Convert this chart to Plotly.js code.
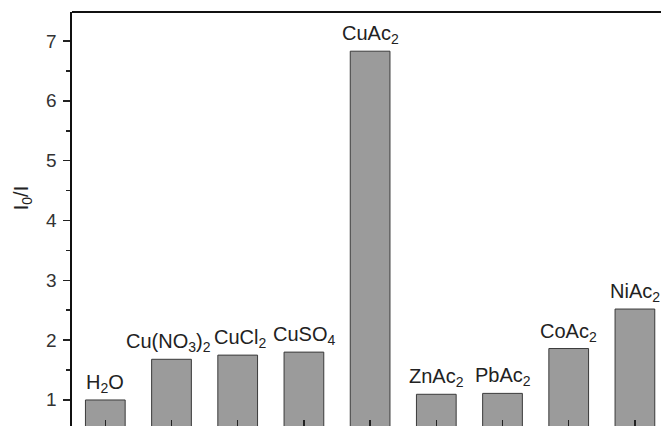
<!DOCTYPE html>
<html>
<head>
<meta charset="utf-8">
<script src="https://cdn.plot.ly/plotly-3.0.1.min.js"></script>
<style>html,body{margin:0;padding:0;background:#fff;}#chart{width:661px;height:426px;}</style>
</head>
<body>
<div id="chart"></div>
<script>
const categories = ["H2O", "Cu(NO3)2", "CuCl2", "CuSO4", "CuAc2", "ZnAc2", "PbAc2", "CoAc2", "NiAc2"];
const labels = ["H<sub>2</sub>O", "Cu(NO<sub>3</sub>)<sub>2</sub>", "CuCl<sub>2</sub>", "CuSO<sub>4</sub>", "CuAc<sub>2</sub>", "ZnAc<sub>2</sub>", "PbAc<sub>2</sub>", "CoAc<sub>2</sub>", "NiAc<sub>2</sub>"];
const values = [1.0, 1.68, 1.75, 1.80, 6.83, 1.095, 1.11, 1.86, 2.52];
const yTickVals = [1, 2, 3, 4, 5, 6, 7];
const yTickText = ["1", "2", "3", "4", "5", "6", "7"];

const xIdx = categories.map((c, i) => i);
const fontFam = '"Liberation Sans", Arial, Helvetica, sans-serif';

const trace = {
  type: 'bar',
  x: xIdx,
  y: values,
  width: 0.6,
  marker: {color: '#9b9b9b', line: {color: '#3a3a3a', width: 1}},
  hoverinfo: 'skip'
};

const annotations = labels.map((t, i) => ({
  x: i, y: values[i], xref: 'x', yref: 'y',
  text: t, showarrow: false, yanchor: 'bottom', yshift: 2,
  xshift: (i === 1 ? -3 : (i === 2 ? 2 : 0)),
  font: {family: fontFam, size: 20, color: '#222'}
}));
yTickVals.forEach((v, i) => annotations.push({
  x: 0, xref: 'paper', y: v, yref: 'y',
  text: yTickText[i], showarrow: false, xanchor: 'right', yanchor: 'middle',
  xshift: -13, font: {family: fontFam, size: 19, color: '#333'}
}));
annotations.push({
  xref: 'paper', yref: 'paper', x: -0.085, y: 0.55,
  text: 'I<sub>0</sub>/I', textangle: -90, showarrow: false,
  xanchor: 'center', yanchor: 'middle',
  font: {family: fontFam, size: 20, color: '#222'}
});

const layout = {
  width: 661, height: 426,
  margin: {l: 72, r: 0, t: 12, b: 0, pad: 0},
  paper_bgcolor: '#fff', plot_bgcolor: '#fff',
  showlegend: false,
  xaxis: {
    range: [-0.503, 8.394],
    tickvals: xIdx, ticktext: xIdx.map(() => ''),
    ticks: 'inside', ticklen: 6, tickwidth: 1.5, tickcolor: '#222',
    showline: false, showgrid: false, zeroline: false
  },
  yaxis: {
    range: [0.565, 7.485],
    tickvals: yTickVals, showticklabels: false,
    ticks: 'outside', ticklen: 7, tickwidth: 1.5, tickcolor: '#222',
    minor: {dtick: 0.5, tick0: 0.5, ticks: 'outside', ticklen: 4, tickwidth: 1.5, tickcolor: '#222', showgrid: false},
    showline: true, linecolor: '#111', linewidth: 2,
    showgrid: false, zeroline: false
  },
  shapes: [{type: 'line', xref: 'paper', yref: 'paper', x0: 0, x1: 1, y0: 1, y1: 1, line: {color: '#111', width: 2}}],
  annotations: annotations
};

Plotly.newPlot('chart', [trace], layout, {displayModeBar: false, staticPlot: true});
</script>
</body>
</html>
